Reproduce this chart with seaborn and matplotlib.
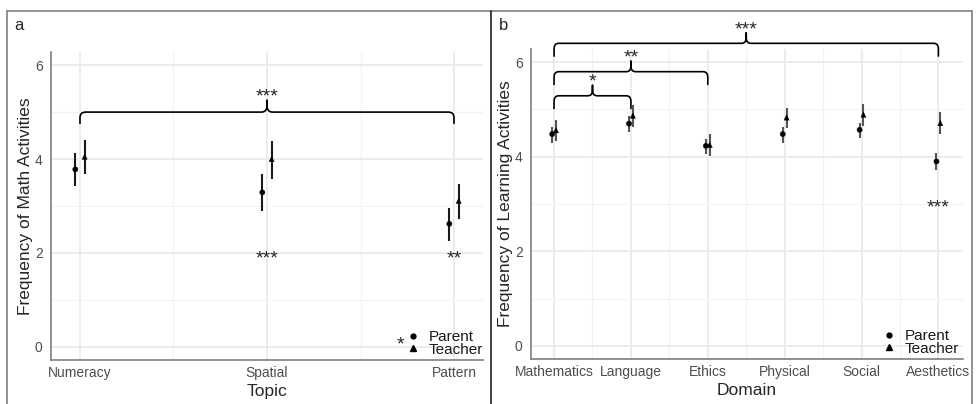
import numpy as np
import pandas as pd
import matplotlib
matplotlib.use("Agg")
import matplotlib.pyplot as plt
import seaborn as sns
from matplotlib.path import Path
from matplotlib.patches import PathPatch
from matplotlib.lines import Line2D

# ---------------- data ----------------
topics = ["Numeracy", "Spatial", "Pattern"]
topic_parent_mean = [3.78, 3.29, 2.62]
topic_parent_lo = [3.43, 2.90, 2.26]
topic_parent_hi = [4.12, 3.68, 2.96]
topic_teacher_mean = [4.05, 4.00, 3.11]
topic_teacher_lo = [3.69, 3.58, 2.73]
topic_teacher_hi = [4.40, 4.39, 3.46]
topic_diff_labels = ["", "***", "**"]
topic_diff_y = [2.0, 2.0, 2.0]
topic_brackets = [(0, 2, 5.0, "***")]

domains = ["Mathematics", "Language", "Ethics", "Physical", "Social", "Aesthetics"]
dom_parent_mean = [4.48, 4.70, 4.23, 4.48, 4.57, 3.90]
dom_parent_lo = [4.30, 4.53, 4.05, 4.30, 4.40, 3.72]
dom_parent_hi = [4.64, 4.87, 4.38, 4.64, 4.72, 4.07]
dom_teacher_mean = [4.56, 4.87, 4.25, 4.83, 4.89, 4.71]
dom_teacher_lo = [4.33, 4.63, 4.02, 4.60, 4.65, 4.48]
dom_teacher_hi = [4.77, 5.09, 4.48, 5.04, 5.11, 4.94]
dom_diff_labels = ["", "", "", "", "", "***"]
dom_diff_y = [3.05, 3.05, 3.05, 3.05, 3.05, 3.05]
dom_brackets = [(0, 1, 5.29, "*"), (0, 2, 5.80, "**"), (0, 5, 6.40, "***")]

raters = ["Parent", "Teacher"]
yticks = [0, 2, 4, 6]

# ---------------- style ----------------
sns.set_theme(style="white")
plt.rcParams["font.family"] = ["Liberation Sans", "DejaVu Sans"]

W, H = 976, 404
fig = plt.figure(figsize=(W / 100, H / 100), dpi=100)

def frac_box(l, r, t, b):
    return [l / W, (H - b) / H, (r - l) / W, (b - t) / H]

ax_a = fig.add_axes(frac_box(51, 483, 52, 360))
ax_b = fig.add_axes(frac_box(531, 963, 49, 359))

DODGE = 0.025
GRID_MAJ = "#ebebeb"
GRID_MIN = "#f2f2f2"
STAR_FS = 14


def make_df(cats, pm, plo, phi, tm, tlo, thi):
    rows = []
    for i, c in enumerate(cats):
        rows.append(dict(cat=c, idx=i, Rater="Parent", x=i - DODGE, mean=pm[i], lo=plo[i], hi=phi[i]))
        rows.append(dict(cat=c, idx=i, Rater="Teacher", x=i + DODGE, mean=tm[i], lo=tlo[i], hi=thi[i]))
    return pd.DataFrame(rows)


def star_text(ax, x, y, label):
    ax.annotate(label, (x, y), xytext=(0, -7.5), textcoords="offset points",
                ha="center", va="baseline", fontsize=STAR_FS, annotation_clip=False)


def bracket(ax, i1, i2, level, label, drop, tip, rx, ry):
    x1, x2 = i1, i2
    xm = (x1 + x2) / 2
    verts = [
        (x1, level - drop),
        (x1, level - ry), (x1, level), (x1 + rx, level),
        (xm - rx, level),
        (xm, level), (xm, level + tip * 0.55),
        (xm, level + tip),
        (xm, level + tip * 0.55), (xm, level), (xm + rx, level),
        (x2 - rx, level),
        (x2, level), (x2, level - ry),
        (x2, level - drop),
    ]
    codes = [Path.MOVETO,
             Path.LINETO, Path.CURVE3, Path.CURVE3,
             Path.LINETO,
             Path.CURVE3, Path.CURVE3,
             Path.LINETO,
             Path.LINETO, Path.CURVE3, Path.CURVE3,
             Path.LINETO,
             Path.CURVE3, Path.CURVE3,
             Path.LINETO]
    patch = PathPatch(Path(verts, codes), fill=False, lw=1.2, color="black",
                      clip_on=False, capstyle="round", joinstyle="round")
    ax.add_patch(patch)
    star_text(ax, xm, level + tip + 0.19, label)


def draw_panel(ax, df, cats, xlim, diff_labels, diff_y, brackets, xlabel, ylabel,
               bar_color, drop, tip, rx, ry, leg_anchor):
    ax.set_xlim(*xlim)
    ax.set_ylim(-0.28, 6.28)
    ax.set_yticks(yticks)
    ax.set_yticks([1, 3, 5], minor=True)
    ax.set_xticks(range(len(cats)))
    ax.set_xticks([i + 0.5 for i in range(len(cats) - 1)], minor=True)
    ax.set_xticklabels(cats)
    ax.grid(True, which="major", color=GRID_MAJ, lw=1.3)
    ax.grid(True, which="minor", color=GRID_MIN, lw=0.8)
    ax.set_axisbelow(True)
    ax.tick_params(axis="both", which="both", length=0, labelsize=10, labelcolor="#4d4d4d")
    ax.tick_params(axis="y", pad=6)
    ax.tick_params(axis="x", pad=4)
    for s in ["top", "right"]:
        ax.spines[s].set_visible(False)
    for s in ["left", "bottom"]:
        ax.spines[s].set_color("#7f7f7f")
        ax.spines[s].set_linewidth(1.2)

    ax.vlines(df["x"], df["lo"], df["hi"], color=bar_color, lw=1.5, zorder=2)
    sns.scatterplot(data=df, x="x", y="mean", style="Rater", markers={"Parent": "o", "Teacher": "^"},
                    color="black", s=14, edgecolor="black", linewidth=0.3, legend=False, ax=ax, zorder=3)

    for i, (lab, yy) in enumerate(zip(diff_labels, diff_y)):
        if lab:
            star_text(ax, i, yy, lab)
    for (i1, i2, lvl, lab) in brackets:
        bracket(ax, i1, i2, lvl, lab, drop, tip, rx, ry)

    ax.set_xlabel(xlabel, fontsize=12.5, labelpad=3.5)
    ax.set_ylabel(ylabel, fontsize=12.5, labelpad=1.2)

    handles = [Line2D([], [], marker="o", color="black", ls="", markersize=3.5),
               Line2D([], [], marker="^", color="black", ls="", markersize=3.8)]
    leg = ax.legend(handles, raters, loc="lower right", bbox_to_anchor=leg_anchor,
                    frameon=False, fontsize=11, handlelength=1.0, handletextpad=0.5,
                    labelspacing=-0.1, borderaxespad=0.2)
    for t in leg.get_texts():
        t.set_color("#1a1a1a")
    return ax


df_a = make_df(topics, topic_parent_mean, topic_parent_lo, topic_parent_hi,
               topic_teacher_mean, topic_teacher_lo, topic_teacher_hi)
df_b = make_df(domains, dom_parent_mean, dom_parent_lo, dom_parent_hi,
               dom_teacher_mean, dom_teacher_lo, dom_teacher_hi)

draw_panel(ax_a, df_a, topics, (-0.155, 2.155), topic_diff_labels, topic_diff_y, topic_brackets,
           "Topic", "Frequency of Math Activities", "#1a1a1a", 0.24, 0.25, 0.03, 0.12,
           (1.021, -0.019))
draw_panel(ax_b, df_b, domains, (-0.30, 5.32), dom_diff_labels, dom_diff_y, dom_brackets,
           "Domain", "Frequency of Learning Activities", "#555555", 0.27, 0.22, 0.06, 0.12,
           (1.012, -0.019))

# star key in panel a legend
fig.text(400 / W, 1 - 349 / H, "*", fontsize=STAR_FS, ha="center", va="baseline")

# panel labels
fig.text(14 / W, 1 - 30 / H, "a", fontsize=12, ha="left", va="baseline")
fig.text(499 / W, 1 - 30 / H, "b", fontsize=12, ha="left", va="baseline")

# panel borders
def fline(x0, y0, x1, y1, color, lw):
    fig.add_artist(Line2D([x0 / W, x1 / W], [1 - y0 / H, 1 - y1 / H], color=color, lw=lw,
                          transform=fig.transFigure))

fline(7, 11, 972, 11, "#808080", 1.2)
fline(7, 11, 7, 404, "#808080", 1.2)
fline(491, 11, 491, 404, "#222222", 1.2)
fline(972, 11, 972, 404, "#808080", 1.2)

fig.savefig("out.png", dpi=100, facecolor="white")
